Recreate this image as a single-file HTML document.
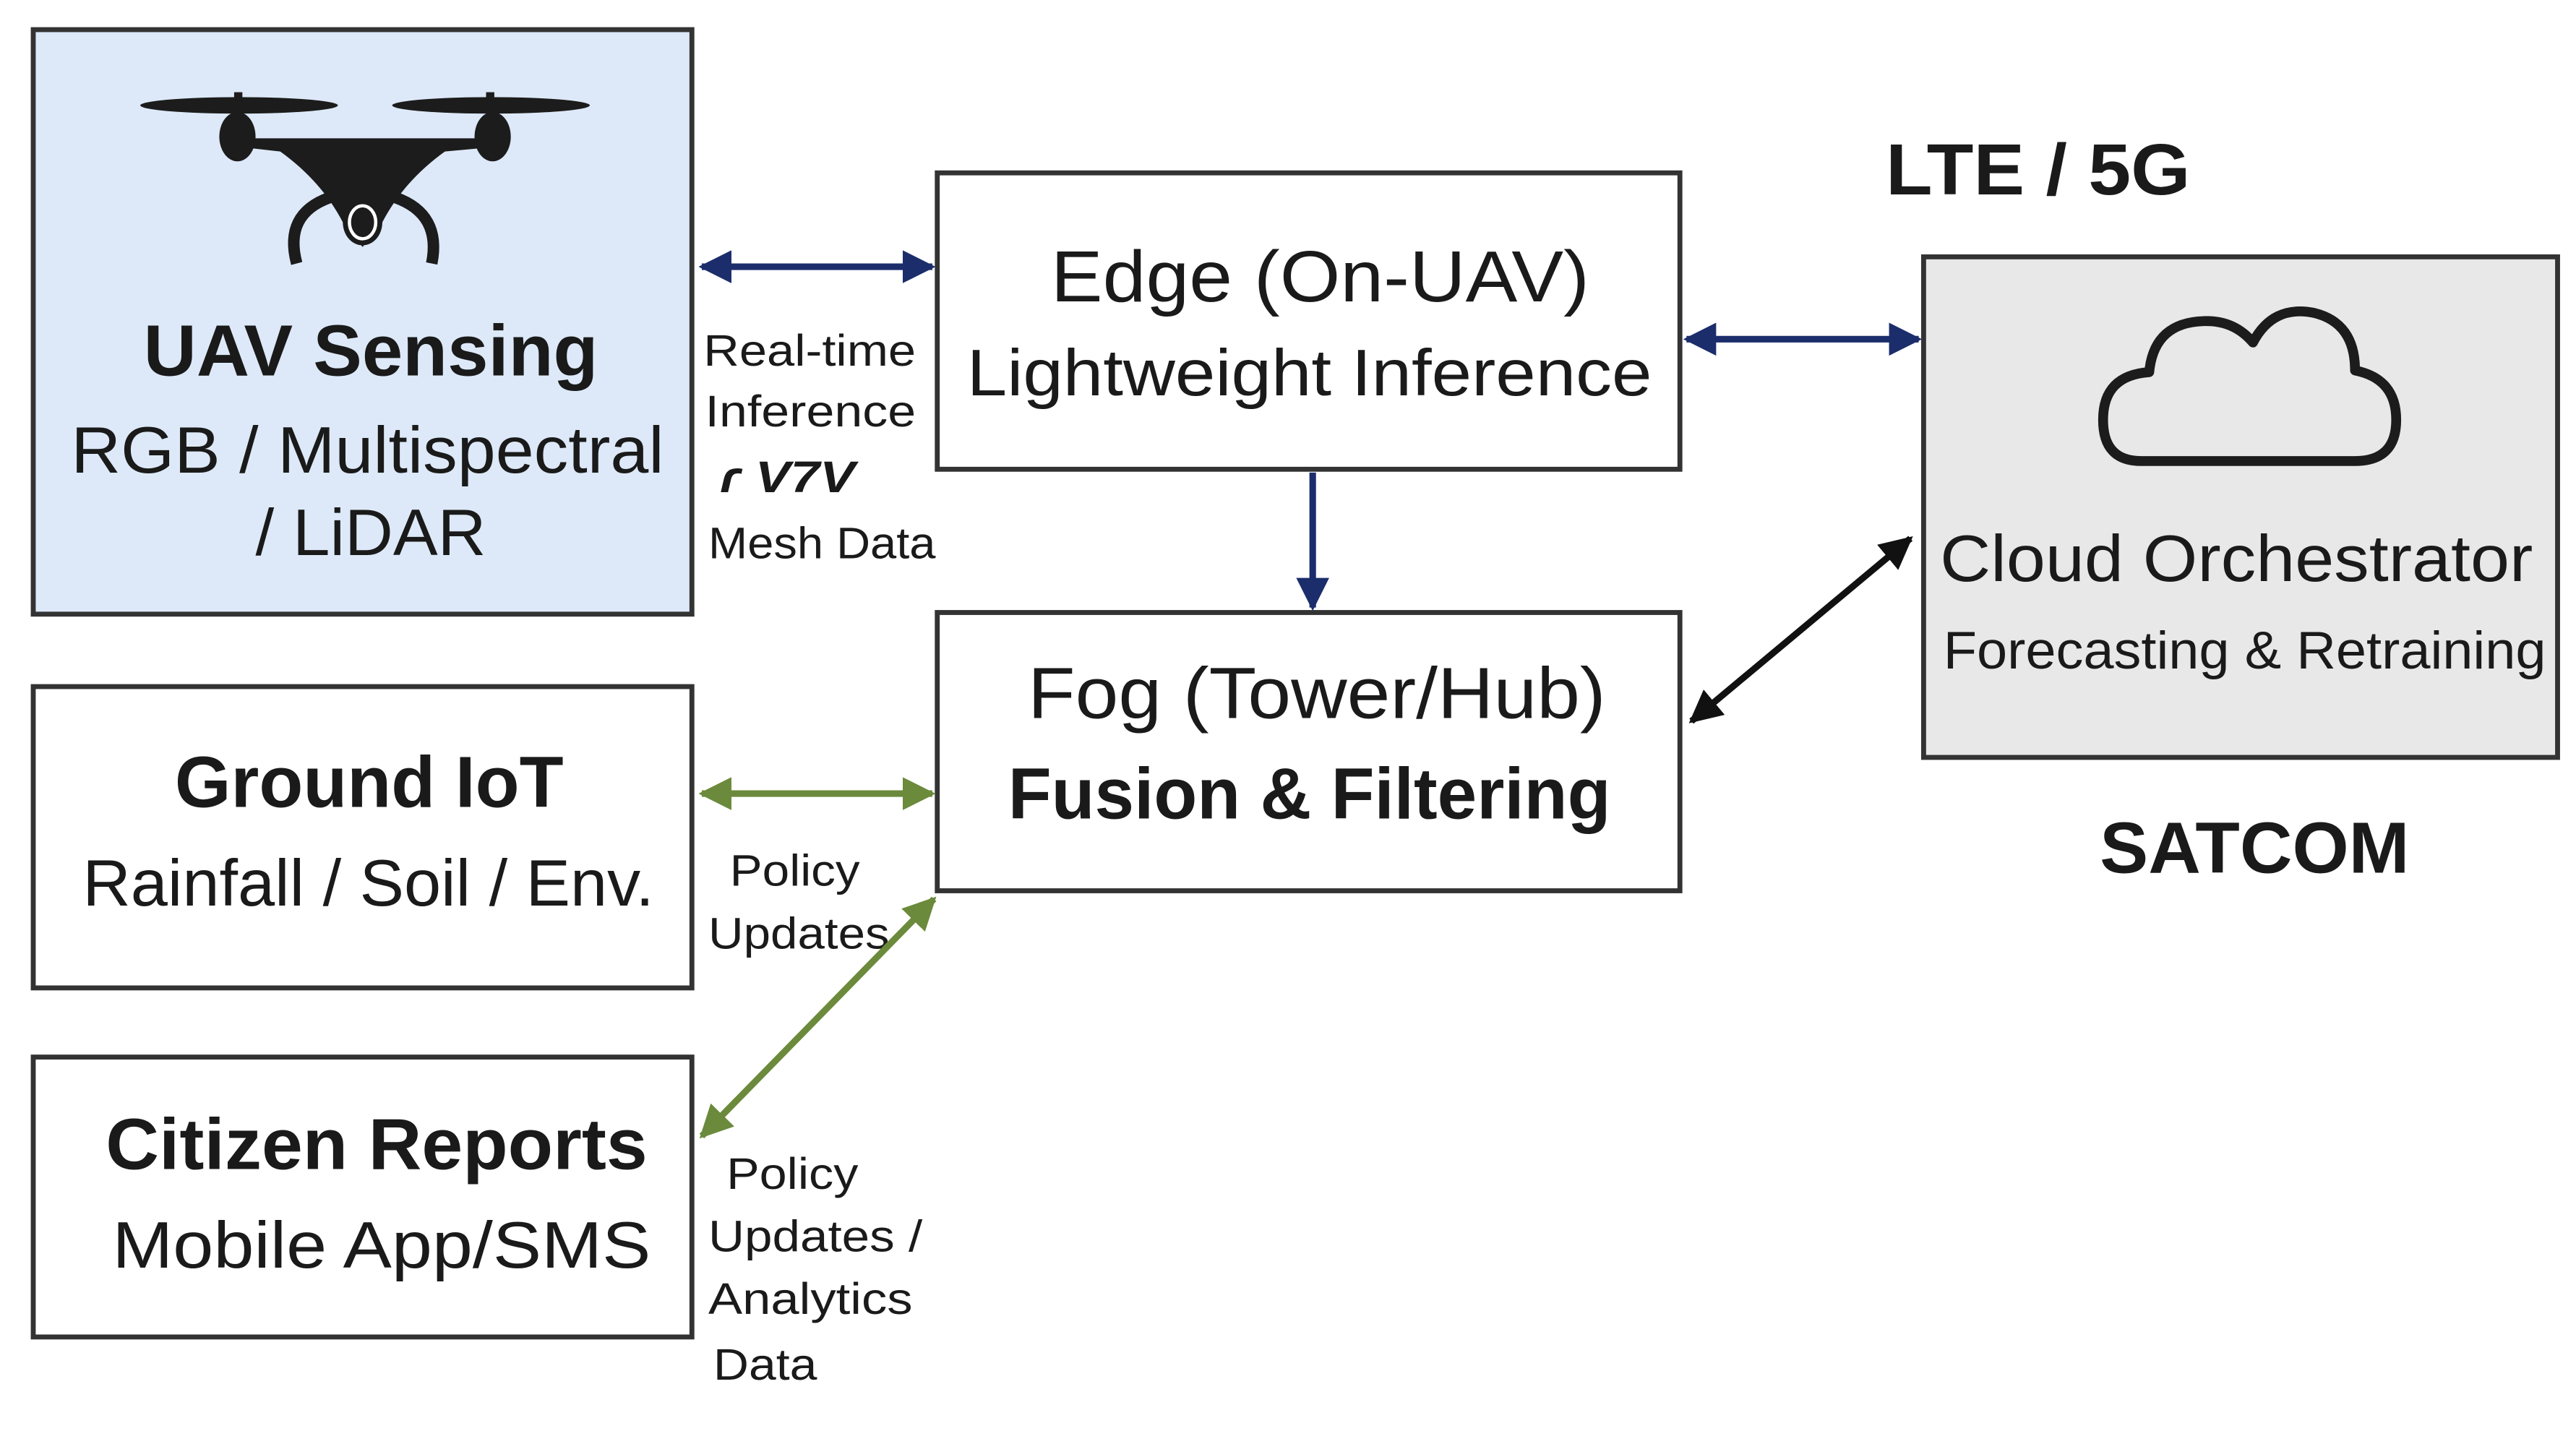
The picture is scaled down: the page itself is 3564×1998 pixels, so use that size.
<!DOCTYPE html>
<html><head><meta charset="utf-8"><style>
html,body{margin:0;padding:0;background:#fff;}
svg{display:block;}
text{font-family:"Liberation Sans","DejaVu Sans",sans-serif;fill:#1a1a1a;}
</style></head><body>
<svg width="3564" height="1998" viewBox="0 0 1564 877" xmlns="http://www.w3.org/2000/svg">
<defs>
<marker id="an" viewBox="0 0 10 10" refX="9" refY="5" markerWidth="5" markerHeight="5" orient="auto-start-reverse"><path d="M0,0 L10,5 L0,10 z" fill="#1b2d6b"/></marker>
<marker id="ak" viewBox="0 0 10 10" refX="9" refY="5" markerWidth="5" markerHeight="5" orient="auto-start-reverse"><path d="M0,0 L10,5 L0,10 z" fill="#111"/></marker>
<marker id="ag" viewBox="0 0 10 10" refX="9" refY="5" markerWidth="5" markerHeight="5" orient="auto-start-reverse"><path d="M0,0 L10,5 L0,10 z" fill="#6b8a3c"/></marker>
</defs>
<rect width="1564" height="877" fill="#fff"/>
<!-- boxes -->
<rect x="20" y="18" width="400" height="355" fill="#dde9f8" stroke="#333" stroke-width="3"/>
<rect x="569" y="105" width="451" height="180" fill="#fff" stroke="#333" stroke-width="3"/>
<rect x="1168" y="156" width="385" height="304" fill="#e8e8e8" stroke="#333" stroke-width="3"/>
<rect x="569" y="372" width="451" height="169" fill="#fff" stroke="#333" stroke-width="3"/>
<rect x="20" y="417" width="400" height="183" fill="#fff" stroke="#333" stroke-width="3"/>
<rect x="20" y="642" width="400" height="170" fill="#fff" stroke="#333" stroke-width="3"/>
<!-- drone -->
<g fill="#1c1c1c">
<ellipse cx="145" cy="64" rx="60" ry="5"/>
<ellipse cx="298" cy="64" rx="60" ry="5"/>
<rect x="142" y="56" width="5" height="20"/>
<rect x="295" y="56" width="5" height="20"/>
<ellipse cx="144" cy="83" rx="11" ry="15"/>
<ellipse cx="299" cy="83" rx="11" ry="15"/>
<path d="M152,84 L292,84 L292,90 L270,92 Q245,110 232,135 L220,150 L208,135 Q195,110 170,92 L152,90 z"/>
<path d="M200,120 Q172,130 180,160" fill="none" stroke="#1c1c1c" stroke-width="7"/>
<path d="M240,120 Q268,130 262,160" fill="none" stroke="#1c1c1c" stroke-width="7"/>
<ellipse cx="220" cy="135" rx="12" ry="14"/>
</g>
<ellipse cx="220" cy="135" rx="8" ry="10" fill="none" stroke="#fff" stroke-width="2"/>
<!-- cloud icon -->
<path d="M1300,280 Q1277,280 1277,255 Q1277,228 1305,226 Q1308,195 1340,195 Q1357,195 1368,208 Q1380,185 1405,190 Q1430,196 1430,225 Q1455,230 1455,255 Q1455,280 1430,280 z" fill="none" stroke="#1c1c1c" stroke-width="6" stroke-linejoin="round"/>
<!-- box text -->
<g font-weight="bold">
<text x="87" y="228" font-size="44" textLength="276" lengthAdjust="spacingAndGlyphs">UAV Sensing</text>
<text x="106" y="490" font-size="44" textLength="236" lengthAdjust="spacingAndGlyphs">Ground IoT</text>
<text x="64" y="710" font-size="44" textLength="329" lengthAdjust="spacingAndGlyphs">Citizen Reports</text>
<text x="612" y="497" font-size="44" textLength="366" lengthAdjust="spacingAndGlyphs">Fusion &amp; Filtering</text>
<text x="1145" y="118" font-size="44" textLength="185" lengthAdjust="spacingAndGlyphs">LTE / 5G</text>
<text x="1275" y="530" font-size="44" textLength="188" lengthAdjust="spacingAndGlyphs">SATCOM</text>
</g>
<text x="43" y="287" font-size="40" textLength="360" lengthAdjust="spacingAndGlyphs">RGB / Multispectral</text>
<text x="155" y="337" font-size="40" textLength="140" lengthAdjust="spacingAndGlyphs">/ LiDAR</text>
<text x="638" y="183" font-size="44" textLength="327" lengthAdjust="spacingAndGlyphs">Edge (On-UAV)</text>
<text x="587" y="240" font-size="40" textLength="416" lengthAdjust="spacingAndGlyphs">Lightweight Inference</text>
<text x="624" y="436" font-size="44" textLength="351" lengthAdjust="spacingAndGlyphs">Fog (Tower/Hub)</text>
<text x="50" y="550" font-size="40" textLength="347" lengthAdjust="spacingAndGlyphs">Rainfall / Soil / Env.</text>
<text x="68" y="770" font-size="40" textLength="327" lengthAdjust="spacingAndGlyphs">Mobile App/SMS</text>
<text x="1178" y="353" font-size="40" textLength="360" lengthAdjust="spacingAndGlyphs">Cloud Orchestrator</text>
<text x="1180" y="406" font-size="32" textLength="366" lengthAdjust="spacingAndGlyphs">Forecasting &amp; Retraining</text>
<!-- small labels -->
<g font-size="27">
<text x="427" y="222" textLength="129" lengthAdjust="spacingAndGlyphs">Real-time</text>
<text x="428" y="259" textLength="128" lengthAdjust="spacingAndGlyphs">Inference</text>
<text x="437" y="299" font-weight="bold" font-style="italic" textLength="82" lengthAdjust="spacingAndGlyphs">ɾ V7V</text>
<text x="430" y="339" textLength="138" lengthAdjust="spacingAndGlyphs">Mesh Data</text>
<text x="443" y="538" textLength="79" lengthAdjust="spacingAndGlyphs">Policy</text>
<text x="430" y="576" textLength="110" lengthAdjust="spacingAndGlyphs">Updates</text>
<text x="441" y="722" textLength="80" lengthAdjust="spacingAndGlyphs">Policy</text>
<text x="430" y="760" textLength="130" lengthAdjust="spacingAndGlyphs">Updates /</text>
<text x="430" y="798" textLength="124" lengthAdjust="spacingAndGlyphs">Analytics</text>
<text x="433" y="838" textLength="63" lengthAdjust="spacingAndGlyphs">Data</text>
</g>
<!-- arrows -->
<line x1="426" y1="162" x2="566" y2="162" stroke="#1b2d6b" stroke-width="4" marker-start="url(#an)" marker-end="url(#an)"/>
<line x1="1024" y1="206" x2="1165" y2="206" stroke="#1b2d6b" stroke-width="4" marker-start="url(#an)" marker-end="url(#an)"/>
<line x1="797" y1="287" x2="797" y2="369" stroke="#1b2d6b" stroke-width="4" marker-end="url(#an)"/>
<line x1="1027" y1="438" x2="1160" y2="327" stroke="#111" stroke-width="4" marker-start="url(#ak)" marker-end="url(#ak)"/>
<line x1="426" y1="482" x2="566" y2="482" stroke="#6b8a3c" stroke-width="4" marker-start="url(#ag)" marker-end="url(#ag)"/>
<line x1="426" y1="690" x2="567" y2="546" stroke="#6b8a3c" stroke-width="4" marker-start="url(#ag)" marker-end="url(#ag)"/>
</svg>
</body></html>
